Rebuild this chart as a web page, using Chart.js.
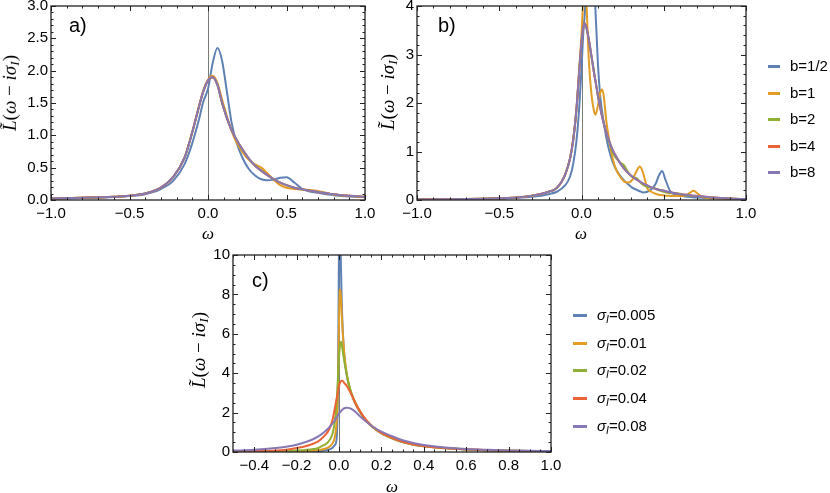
<!DOCTYPE html>
<html>
<head>
<meta charset="utf-8">
<script src="https://cdn.jsdelivr.net/npm/chart.js@4.4.0/dist/chart.umd.min.js"></script>
<style>
body { margin: 0; width: 830px; height: 493px; position: relative; background: #fff; overflow: hidden; font-family: "Liberation Sans", Arial, sans-serif; }
canvas { position: absolute; left: 0; top: 0; }
.tag { position: absolute; font-size: 20px; line-height: 1; }
.ytitle { position: absolute; font-family: "Liberation Serif", serif; font-size: 19px; white-space: nowrap; transform: translate(-50%, -50%) rotate(-90deg); }
.xtitle { position: absolute; font-family: "Liberation Serif", serif; font-style: italic; font-size: 17px; transform: translate(-50%, -50%); }
.row { position: absolute; height: 20px; line-height: 20px; font-size: 15px; white-space: nowrap; }
.row .sw { position: absolute; top: 9px; height: 3px; }
sub { font-size: 70%; vertical-align: -0.25em; }
</style>
</head>
<body>
<canvas id="chartA" width="830" height="493"></canvas>
<canvas id="chartB" width="830" height="493"></canvas>
<canvas id="chartC" width="830" height="493"></canvas>

<div class="tag" style="left:69px;top:15px">a)</div>
<div class="tag" style="left:438px;top:15px">b)</div>
<div class="tag" style="left:252px;top:270px">c)</div>

<div class="ytitle" style="left:11px;top:93px"><i>L̃</i>(<i>ω</i> − <i>iσ</i><sub><i>I</i></sub>)</div>
<div class="ytitle" style="left:389px;top:92px"><i>L̃</i>(<i>ω</i> − <i>iσ</i><sub><i>I</i></sub>)</div>
<div class="ytitle" style="left:200px;top:350px"><i>L̃</i>(<i>ω</i> − <i>iσ</i><sub><i>I</i></sub>)</div>

<div class="xtitle" style="left:208px;top:234px">ω</div>
<div class="xtitle" style="left:581px;top:234px">ω</div>
<div class="xtitle" style="left:392px;top:487px">ω</div>

<div id="legendB"></div>
<div id="legendC"></div>

<script>
// COLOURS
const colors = ["#5e81b5", "#e19c24", "#8fb032", "#eb6235", "#8778b3"];

// PANEL A DATA
const aOmega = [-1, -0.8, -0.6, -0.5, -0.4, -0.3, -0.22, -0.15, -0.1, -0.06, -0.03, 0, 0.03, 0.06, 0.09, 0.12, 0.15, 0.18, 0.22, 0.26, 0.3, 0.34, 0.38, 0.42, 0.46, 0.5, 0.55, 0.6, 0.65, 0.7, 0.8, 0.9, 1.0];
const aHalf = [0.02, 0.03, 0.045, 0.06, 0.09, 0.17, 0.3, 0.55, 0.88, 1.22, 1.52, 1.72, 2.12, 2.35, 2.15, 1.68, 1.2, 0.9, 0.65, 0.48, 0.38, 0.32, 0.305, 0.315, 0.345, 0.35, 0.27, 0.17, 0.13, 0.11, 0.075, 0.055, 0.045];
const aOne = [0.025, 0.035, 0.05, 0.065, 0.1, 0.19, 0.36, 0.65, 1.05, 1.43, 1.69, 1.86, 1.92, 1.81, 1.55, 1.3, 1.07, 0.9, 0.74, 0.62, 0.55, 0.5, 0.41, 0.31, 0.23, 0.19, 0.17, 0.16, 0.155, 0.14, 0.085, 0.06, 0.045];
const aTwo = [0.025, 0.035, 0.05, 0.065, 0.1, 0.19, 0.36, 0.65, 1.05, 1.42, 1.68, 1.85, 1.9, 1.78, 1.5, 1.27, 1.08, 0.94, 0.78, 0.64, 0.53, 0.46, 0.38, 0.32, 0.27, 0.23, 0.19, 0.165, 0.145, 0.125, 0.09, 0.065, 0.05];
const aFour = [0.025, 0.035, 0.05, 0.065, 0.1, 0.19, 0.36, 0.65, 1.05, 1.42, 1.68, 1.85, 1.9, 1.78, 1.5, 1.27, 1.08, 0.94, 0.78, 0.64, 0.53, 0.45, 0.38, 0.32, 0.27, 0.23, 0.19, 0.165, 0.145, 0.125, 0.09, 0.065, 0.05];
const aEight = [0.025, 0.035, 0.05, 0.065, 0.1, 0.19, 0.36, 0.65, 1.05, 1.42, 1.68, 1.85, 1.9, 1.78, 1.5, 1.27, 1.08, 0.94, 0.78, 0.64, 0.53, 0.45, 0.38, 0.32, 0.27, 0.23, 0.19, 0.165, 0.145, 0.125, 0.09, 0.065, 0.05];

// PANEL B DATA
const bOmega = [-1, -0.8, -0.6, -0.5, -0.4, -0.3, -0.2, -0.15, -0.1, -0.07, -0.05, -0.03, -0.015, 0, 0.01, 0.02, 0.03, 0.045, 0.06, 0.075, 0.085, 0.1, 0.115, 0.125, 0.135, 0.15, 0.17, 0.19, 0.21, 0.235, 0.26, 0.285, 0.31, 0.335, 0.355, 0.375, 0.4, 0.425, 0.45, 0.47, 0.49, 0.51, 0.54, 0.57, 0.6, 0.63, 0.66, 0.68, 0.7, 0.73, 0.77, 0.8, 0.9, 1.0];
const bHalf = [0.008, 0.012, 0.02, 0.028, 0.04, 0.065, 0.12, 0.17, 0.3, 0.48, 0.75, 1.24, 1.85, 2.7, 3.4, 3.85, 4.4, 5.3, 5.4, 4.8, 3.9, 2.8, 2.1, 1.83, 1.6, 1.3, 1.0, 0.78, 0.63, 0.5, 0.4, 0.32, 0.25, 0.21, 0.18, 0.155, 0.17, 0.22, 0.33, 0.5, 0.6, 0.42, 0.18, 0.11, 0.085, 0.07, 0.06, 0.055, 0.05, 0.045, 0.04, 0.035, 0.025, 0.02];
const bOne = [0.01, 0.015, 0.025, 0.035, 0.05, 0.09, 0.17, 0.25, 0.52, 0.85, 1.25, 1.9, 2.65, 3.4, 4.1, 4.5, 4.05, 2.85, 2.2, 1.85, 1.76, 1.95, 2.22, 2.28, 2.15, 1.65, 1.2, 0.85, 0.63, 0.48, 0.38, 0.36, 0.42, 0.6, 0.69, 0.55, 0.24, 0.17, 0.13, 0.11, 0.1, 0.09, 0.085, 0.08, 0.08, 0.09, 0.15, 0.19, 0.15, 0.07, 0.04, 0.035, 0.02, 0.015];
const bTwo = [0.01, 0.015, 0.025, 0.035, 0.05, 0.09, 0.17, 0.25, 0.52, 0.85, 1.25, 1.9, 2.6, 3.25, 3.55, 3.64, 3.55, 3.3, 2.98, 2.65, 2.45, 2.15, 1.9, 1.75, 1.6, 1.4, 1.17, 0.98, 0.86, 0.77, 0.71, 0.56, 0.47, 0.45, 0.37, 0.31, 0.27, 0.25, 0.24, 0.2, 0.18, 0.16, 0.14, 0.14, 0.13, 0.1, 0.09, 0.085, 0.08, 0.07, 0.055, 0.05, 0.03, 0.02];
const bFour = [0.01, 0.015, 0.025, 0.035, 0.05, 0.09, 0.17, 0.25, 0.52, 0.85, 1.25, 1.9, 2.6, 3.25, 3.55, 3.64, 3.55, 3.3, 2.98, 2.65, 2.45, 2.15, 1.88, 1.72, 1.58, 1.4, 1.2, 1.03, 0.9, 0.76, 0.64, 0.55, 0.48, 0.42, 0.38, 0.34, 0.3, 0.26, 0.23, 0.21, 0.2, 0.18, 0.16, 0.14, 0.12, 0.11, 0.1, 0.09, 0.085, 0.075, 0.06, 0.05, 0.03, 0.02];
const bEight = [0.01, 0.015, 0.025, 0.035, 0.05, 0.09, 0.17, 0.25, 0.52, 0.85, 1.25, 1.9, 2.6, 3.25, 3.55, 3.64, 3.55, 3.3, 2.98, 2.65, 2.45, 2.15, 1.88, 1.72, 1.58, 1.4, 1.2, 1.03, 0.9, 0.76, 0.64, 0.55, 0.48, 0.42, 0.38, 0.34, 0.3, 0.26, 0.23, 0.21, 0.2, 0.18, 0.16, 0.14, 0.12, 0.11, 0.1, 0.09, 0.085, 0.075, 0.06, 0.05, 0.03, 0.02];

// PANEL C DATA
const cOmega = [-0.5, -0.4, -0.3, -0.25, -0.2, -0.15, -0.12, -0.1, -0.08, -0.06, -0.045, -0.03, -0.02, -0.012, -0.006, -0.003, 0, 0.002, 0.004, 0.006, 0.009, 0.013, 0.018, 0.025, 0.035, 0.045, 0.06, 0.08, 0.1, 0.13, 0.16, 0.2, 0.25, 0.3, 0.35, 0.4, 0.5, 0.6, 0.7, 0.8, 0.9, 1.0];
const c005 = [0.004, 0.005, 0.008, 0.012, 0.017, 0.027, 0.037, 0.05, 0.065, 0.095, 0.13, 0.22, 0.35, 0.6, 2.5, 6.0, 10.5, 12.5, 12.5, 11.5, 9.5, 7.6, 6.1, 4.9, 4.0, 3.45, 2.9, 2.4, 2.0, 1.55, 1.25, 0.95, 0.7, 0.5, 0.37, 0.29, 0.19, 0.13, 0.09, 0.065, 0.05, 0.04];
const c01 = [0.008, 0.01, 0.017, 0.024, 0.035, 0.055, 0.075, 0.1, 0.13, 0.19, 0.27, 0.45, 0.75, 1.4, 2.8, 4.5, 6.6, 7.7, 8.2, 8.25, 7.9, 7.0, 6.0, 5.0, 4.1, 3.5, 2.9, 2.4, 2.02, 1.56, 1.26, 0.96, 0.7, 0.5, 0.37, 0.29, 0.19, 0.13, 0.09, 0.065, 0.05, 0.04];
const c02 = [0.015, 0.02, 0.035, 0.05, 0.07, 0.11, 0.15, 0.19, 0.3, 0.42, 0.6, 0.95, 1.5, 2.4, 3.5, 4.2, 4.8, 5.1, 5.35, 5.5, 5.6, 5.45, 5.1, 4.6, 4.0, 3.5, 2.95, 2.45, 2.05, 1.58, 1.27, 0.97, 0.71, 0.51, 0.38, 0.3, 0.2, 0.13, 0.09, 0.066, 0.05, 0.04];
const c04 = [0.03, 0.045, 0.08, 0.12, 0.2, 0.32, 0.43, 0.53, 0.7, 0.92, 1.18, 1.65, 2.2, 2.65, 3.0, 3.2, 3.35, 3.43, 3.5, 3.55, 3.6, 3.62, 3.6, 3.5, 3.38, 3.2, 2.9, 2.42, 2.05, 1.6, 1.28, 0.97, 0.72, 0.52, 0.39, 0.31, 0.2, 0.135, 0.095, 0.068, 0.052, 0.042];
const c08 = [0.07, 0.11, 0.2, 0.27, 0.37, 0.53, 0.66, 0.78, 0.92, 1.1, 1.26, 1.45, 1.6, 1.74, 1.84, 1.9, 1.95, 1.98, 2.01, 2.03, 2.07, 2.12, 2.17, 2.22, 2.25, 2.24, 2.18, 2.02, 1.8, 1.52, 1.28, 1.03, 0.8, 0.6, 0.46, 0.36, 0.23, 0.15, 0.11, 0.08, 0.06, 0.05];

// LABELS AND TICKS
const bLabels = ["b=1/2", "b=1", "b=2", "b=4", "b=8"];
const cSigmas = ["0.005", "0.01", "0.02", "0.04", "0.08"];
const abXTicks = [-1, -0.5, 0, 0.5, 1];
const aYTicks = [0, 0.5, 1, 1.5, 2, 2.5, 3];
const bYTicks = [0, 1, 2, 3, 4];
const cXTicks = [-0.4, -0.2, 0, 0.2, 0.4, 0.6, 0.8, 1.0];
const cYTicks = [0, 2, 4, 6, 8, 10];

// FORMATS
const fmt1 = (v) => (v < 0 ? "\u2212" : "") + Math.abs(v).toFixed(1);
const fmt0 = (v) => String(Math.round(v));

// FRAME, INWARD TICKS AND ZERO LINE
const frameTicks = {
    id: "frameTicks",
    beforeDatasetsDraw(chart) {
        const { ctx, chartArea: a, scales: { x } } = chart;
        const px = Math.round(x.getPixelForValue(0)) + 0.5;
        ctx.save();
        ctx.strokeStyle = "#7a7a7a";
        ctx.lineWidth = 1;
        ctx.beginPath();
        ctx.moveTo(px, a.top);
        ctx.lineTo(px, a.bottom);
        ctx.stroke();
        ctx.restore();
    },
    afterDraw(chart, args, opts) {
        const { ctx, chartArea: a, scales: { x, y } } = chart;
        ctx.save();
        ctx.strokeStyle = "#222";
        ctx.lineWidth = 1;
        ctx.beginPath();
        const mark = (scale, v, len) => {
            const p = Math.round(scale.getPixelForValue(v)) + 0.5;
            if (scale.axis === "x") {
                ctx.moveTo(p, a.bottom); ctx.lineTo(p, a.bottom - len);
                ctx.moveTo(p, a.top); ctx.lineTo(p, a.top + len);
            } else {
                ctx.moveTo(a.left, p); ctx.lineTo(a.left + len, p);
                ctx.moveTo(a.right, p); ctx.lineTo(a.right - len, p);
            }
        };
        [[x, opts.xMinor], [y, opts.yMinor]].forEach(([s, step]) => {
            const n = Math.round((s.max - s.min) / step);
            for (let i = 0; i <= n; i++) {
                const v = s.min + i * step;
                const major = s.ticks.some((t) => Math.abs(t.value - v) < step / 10);
                mark(s, v, major ? 5 : 2.5);
            }
        });
        ctx.stroke();
        ctx.lineWidth = 1.3;
        ctx.strokeRect(a.left, a.top, a.right - a.left, a.bottom - a.top);
        ctx.restore();
    },
};

// CHART BUILDER
function makePanel(id, xs, series, opt) {
    return new Chart(document.getElementById(id), {
        type: "line",
        data: {
            datasets: series.map((s, i) => ({
                label: s.label,
                data: xs.map((x, k) => ({ x, y: s.values[k] })),
                borderColor: colors[i],
                borderWidth: 2,
                pointRadius: 0,
                cubicInterpolationMode: "monotone",
                fill: false,
                order: series.length - i,
            })),
        },
        options: {
            responsive: false,
            animation: false,
            events: [],
            layout: { padding: opt.padding },
            plugins: {
                legend: { display: false },
                tooltip: { enabled: false },
                frameTicks: { xMinor: opt.xMinor, yMinor: opt.yMinor },
            },
            scales: {
                x: {
                    type: "linear", min: opt.xMin, max: opt.xMax,
                    grid: { display: false, drawTicks: false }, border: { display: false },
                    ticks: { autoSkip: false, maxRotation: 0, padding: 5, color: "#000", font: { family: "Liberation Sans", size: 15 }, callback: (v) => fmt1(v) },
                    afterBuildTicks: (s) => { s.ticks = opt.xTicks.map((v) => ({ value: v })); },
                    afterFit: (s) => { s.height = 24; s.paddingLeft = 0; s.paddingRight = 0; },
                },
                y: {
                    type: "linear", min: opt.yMin, max: opt.yMax,
                    grid: { display: false, drawTicks: false }, border: { display: false },
                    ticks: { autoSkip: false, padding: 3, color: "#000", font: { family: "Liberation Sans", size: 15 }, callback: (v) => opt.yFmt(v) },
                    afterBuildTicks: (s) => { s.ticks = opt.yTicks.map((v) => ({ value: v })); },
                    afterFit: (s) => { s.width = 36; s.paddingTop = 0; s.paddingBottom = 0; },
                },
            },
        },
        plugins: [frameTicks],
    });
}

// LEGENDS
function makeLegend(id, left, top, step, swatchW, labelsHtml) {
    const box = document.getElementById(id);
    labelsHtml.forEach((html, i) => {
        const row = document.createElement("div");
        row.className = "row";
        row.style.left = left + "px";
        row.style.top = (top + i * step - 10) + "px";
        row.style.paddingLeft = (swatchW + 10) + "px";
        row.innerHTML = `<span class="sw" style="left:0;width:${swatchW}px;background:${colors[i]}"></span>` + html;
        box.appendChild(row);
    });
}

// INIT
makePanel("chartA", aOmega,
    [aHalf, aOne, aTwo, aFour, aEight].map((values, i) => ({ label: bLabels[i], values })),
    { padding: { left: 15, top: 6, right: 465, bottom: 269 }, xMin: -1, xMax: 1, yMin: 0, yMax: 3,
      xTicks: abXTicks, yTicks: aYTicks, yFmt: fmt1, xMinor: 0.1, yMinor: 0.1 });

makePanel("chartB", bOmega,
    [bHalf, bOne, bTwo, bFour, bEight].map((values, i) => ({ label: bLabels[i], values })),
    { padding: { left: 381, top: 6, right: 84, bottom: 269 }, xMin: -1, xMax: 1, yMin: 0, yMax: 4,
      xTicks: abXTicks, yTicks: bYTicks, yFmt: fmt0, xMinor: 0.1, yMinor: 0.2 });

makePanel("chartC", cOmega,
    [c005, c01, c02, c04, c08].map((values, i) => ({ label: "\u03c3I=" + cSigmas[i], values })),
    { padding: { left: 197, top: 255, right: 279, bottom: 17 }, xMin: -0.5, xMax: 1, yMin: 0, yMax: 10,
      xTicks: cXTicks, yTicks: cYTicks, yFmt: fmt0, xMinor: 0.05, yMinor: 0.5 });

makeLegend("legendB", 768, 66, 26.5, 12, bLabels);
makeLegend("legendC", 573, 315, 27.7, 14, cSigmas.map((v) => `<i>σ</i><sub><i>I</i></sub>=${v}`));
</script>
</body>
</html>
